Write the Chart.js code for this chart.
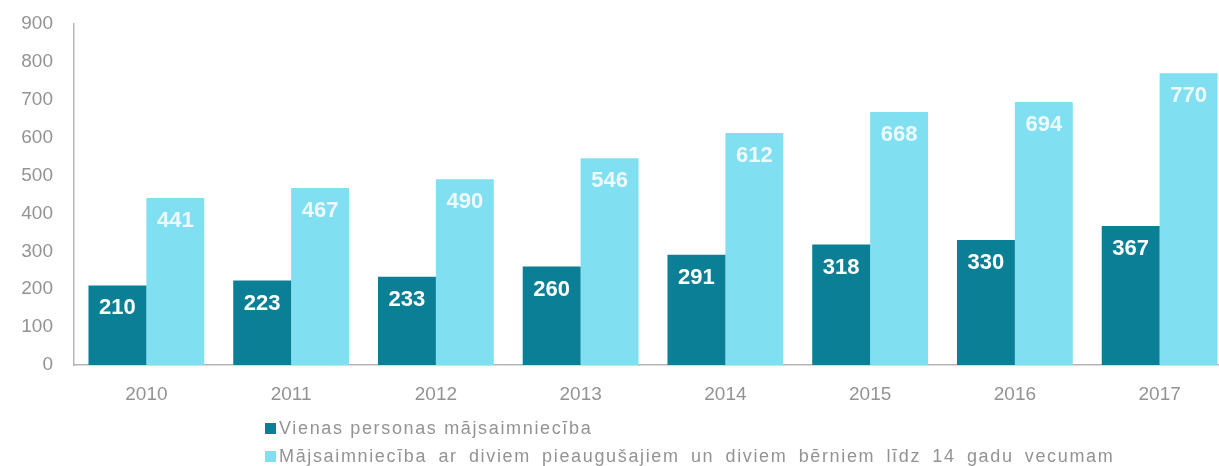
<!DOCTYPE html>
<html>
<head>
<meta charset="utf-8">
<script src="https://cdn.jsdelivr.net/npm/chart.js@4/dist/chart.umd.min.js"></script>
<style>
    html, body { margin: 0; padding: 0; background: #fff; overflow: hidden; }
    #wrap { position: relative; width: 1219px; height: 466px; overflow: hidden; }
    #chart { position: absolute; left: 0; top: 0; }
    #legend {
        position: absolute; left: 265px; top: 414px;
        font-family: "Liberation Sans", Arial, sans-serif;
        font-size: 18px; color: #939393; letter-spacing: 1.65px;
        line-height: 28px; white-space: nowrap;
    }
    #legend span.box {
        display: inline-block; width: 11px; height: 11px;
        margin-right: 3px; vertical-align: 0px;
    }
</style>
</head>
<body>
<div id="wrap">
    <canvas id="chart" width="1240" height="466"></canvas>
    <div id="legend"></div>
</div>
<script>
const years = ['2010', '2011', '2012', '2013', '2014', '2015', '2016', '2017'];
const singleHousehold = [210, 223, 233, 260, 291, 318, 330, 367];
const familyHousehold = [441, 467, 490, 546, 612, 668, 694, 770];
const seriesNames = [
    'Vienas personas mājsaimniecība',
    'Mājsaimniecība ar diviem pieaugušajiem un diviem bērniem līdz 14 gadu vecumam'
];
const yTicks = [0, 100, 200, 300, 400, 500, 600, 700, 800, 900];

const colors = ['#0b7f96', '#80dff1'];
const labelColors = ['#ffffff', '#eefafd'];

// draws the value near the top of each bar
const barValues = {
    id: 'barValues',
    afterDatasetsDraw(chart) {
        let ctx = chart.ctx;
        ctx.save();
        ctx.font = 'bold 22px "Liberation Sans", Arial, sans-serif';
        ctx.textAlign = 'center';
        ctx.textBaseline = 'middle';
        chart.data.datasets.forEach(function (ds, i) {
            let meta = chart.getDatasetMeta(i);
            ctx.fillStyle = labelColors[i];
            meta.data.forEach(function (bar, j) {
                ctx.fillText(ds.data[j], bar.x, bar.y + 23);
            });
        });
        ctx.restore();
    }
};

new Chart('chart', {
    type: 'bar',
    data: {
        labels: years,
        datasets: [
            { label: seriesNames[0], data: singleHousehold, backgroundColor: colors[0] },
            { label: seriesNames[1], data: familyHousehold, backgroundColor: colors[1] }
        ]
    },
    options: {
        responsive: false,
        animation: false,
        devicePixelRatio: 1,
        layout: { padding: { top: 24, right: 8, left: 0, bottom: 0 } },
        datasets: { bar: { barPercentage: 1, categoryPercentage: 0.8 } },
        plugins: {
            legend: { display: false },
            tooltip: { enabled: false }
        },
        scales: {
            x: {
                grid: { display: false, drawTicks: false },
                border: { color: '#b5b5b5', width: 1.5 },
                ticks: {
                    color: '#939393',
                    padding: 18,
                    font: { family: '"Liberation Sans", Arial, sans-serif', size: 19 }
                },
                afterFit(scale) { scale.height = 101; }
            },
            y: {
                min: 0,
                max: 900,
                afterBuildTicks(scale) { scale.ticks = yTicks.map(v => ({ value: v })); },
                grid: { display: false, drawTicks: false },
                border: { color: '#b5b5b5', width: 1.5 },
                ticks: {
                    color: '#939393',
                    padding: 21,
                    font: { family: '"Liberation Sans", Arial, sans-serif', size: 19 }
                },
                afterFit(scale) {
                    scale.width = 74;
                    scale.paddingTop = 0;
                    scale.paddingBottom = 0;
                }
            }
        }
    },
    plugins: [barValues]
});

let legend = document.getElementById('legend');
legend.innerHTML = seriesNames.map(function (name, i) {
    let spacing = i === 1 ? 'word-spacing:4.6px' : '';
    return '<div style="' + spacing + '"><span class="box" style="background:' + colors[i] + '"></span>' + name + '</div>';
}).join('');
</script>
</body>
</html>
